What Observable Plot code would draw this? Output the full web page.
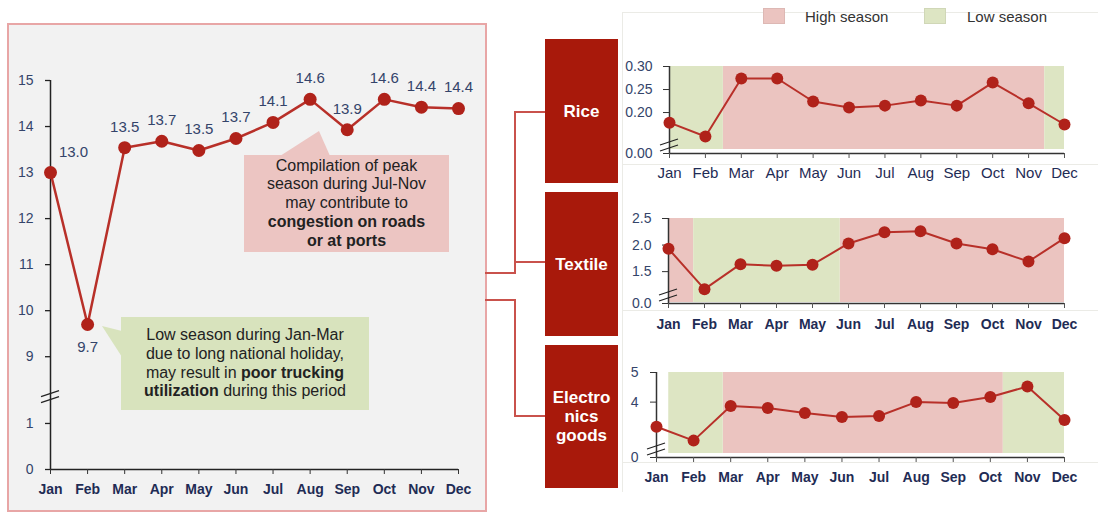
<!DOCTYPE html>
<html><head><meta charset="utf-8">
<script src="https://cdn.jsdelivr.net/npm/d3@7"></script>
<script src="https://cdn.jsdelivr.net/npm/@observablehq/plot@0.6"></script>
<style>
body{margin:0;background:#fff;}
#root{position:relative;width:1098px;height:517px;overflow:hidden;font-family:'Liberation Sans',Arial,Helvetica,sans-serif;}
.abs{position:absolute;}
.call{position:absolute;display:flex;align-items:center;justify-content:center;text-align:center;font-size:16px;line-height:18.7px;color:#222;}
.cat{position:absolute;left:545px;width:73px;background:#a8190b;color:#fff;font-weight:bold;font-size:17px;line-height:19px;display:flex;align-items:center;justify-content:center;text-align:center;}
.leg{position:absolute;top:8px;height:16px;}
.legt{position:absolute;top:8px;font-size:15px;color:#333;line-height:17px;}
.faint{position:absolute;background:#ebebe6;}
</style></head><body><div id="root"></div>
<script>
// ---------- data ----------
const months = ["Jan","Feb","Mar","Apr","May","Jun","Jul","Aug","Sep","Oct","Nov","Dec"];
const mainValues = [13.0, 9.7, 13.54, 13.68, 13.48, 13.74, 14.09, 14.59, 13.93, 14.59, 14.42, 14.39];
const mainTicks = [0, 1, 9, 10, 11, 12, 13, 14, 15];

const riceValues = [0.178, 0.148, 0.274, 0.274, 0.224, 0.211, 0.215, 0.226, 0.215, 0.265, 0.220, 0.174];
const riceTicks = [0, 0.20, 0.25, 0.30];
const riceSeasons = [
  {start: 0, end: 1.5, season: "Low"},
  {start: 1.5, end: 10.45, season: "High"},
  {start: 10.45, end: 11, season: "Low"}
];

const textileValues = [1.93, 1.17, 1.64, 1.61, 1.63, 2.03, 2.24, 2.26, 2.03, 1.92, 1.69, 2.13];
const textileTicks = [0, 1.5, 2.0, 2.5];
const textileSeasons = [
  {start: 0, end: 0.7, season: "High"},
  {start: 0.7, end: 4.77, season: "Low"},
  {start: 4.77, end: 11, season: "High"}
];

const electronicsValues = [3.17, 2.70, 3.87, 3.80, 3.63, 3.50, 3.53, 4.00, 3.97, 4.17, 4.53, 3.40];
const electronicsTicks = [0, 4, 5];
const electronicsSeasons = [
  {start: 0.33, end: 1.8, season: "Low"},
  {start: 1.8, end: 9.35, season: "High"},
  {start: 9.35, end: 11, season: "Low"}
];

// ---------- style ----------
const FONT = "'Liberation Sans', Arial, Helvetica, sans-serif";
const PINK = "#ebc4c0", GREEN = "#dde5c3";
const LINE = "#b83029", DOT = "#b0221a";
const NAVY = "#1f2c55", SLATE = "#34446a";
const root = document.getElementById("root");

function place(node, left, top) {
  node.style.position = "absolute";
  node.style.left = left + "px";
  node.style.top = top + "px";
  root.appendChild(node);
  return node;
}
function breakMarks(chart, xv, yv) {
  const sx = chart.scale("x"), sy = chart.scale("y");
  const cx = sx.apply(xv), cy = sy.apply(yv);
  const g = d3.select(chart).append("g").attr("stroke", "#222").attr("stroke-width", 1.3);
  for (const off of [-3, 3]) {
    g.append("line").attr("x1", cx - 9).attr("y1", cy + 3 + off).attr("x2", cx + 9).attr("y2", cy - 3 + off);
  }
}

// main panel background
const panel = document.createElement("div");
Object.assign(panel.style, {width: "480px", height: "489px", boxSizing: "border-box", border: "2px solid #e8a6a6", background: "#f2f2f2"});
place(panel, 7, 23);

// ---------- main chart ----------
const brkMain = v => v >= 5 ? v - 6.55 : v;
const mainData = months.map((m, i) => ({i, month: m, value: mainValues[i]}));
const main = Plot.plot({
  width: 490, height: 517,
  marginLeft: 50, marginRight: 32, marginTop: 80, marginBottom: 48,
  style: {fontFamily: FONT, background: "transparent"},
  x: {type: "linear", domain: [0, 11]},
  y: {type: "linear", domain: [0, brkMain(15)]},
  marks: [
    Plot.ruleX([0], {stroke: "#222", strokeWidth: 1.5}),
    Plot.ruleY([0], {stroke: "#222", strokeWidth: 1.5}),
    Plot.axisY(mainTicks.map(brkMain), {tickFormat: t => String(mainTicks[mainTicks.map(brkMain).indexOf(t)]), tickSize: 5, tickPadding: 12, fontSize: 14, fill: SLATE, stroke: "#222", strokeWidth: 1.3, label: null}),
    Plot.axisX(d3.range(12), {tickFormat: i => months[i], tickSize: 5, tickPadding: 10, fontSize: 14, fontWeight: "bold", fill: NAVY, stroke: "#333", label: null}),
    Plot.line(mainData, {x: "i", y: d => brkMain(d.value), stroke: LINE, strokeWidth: 2.5}),
    Plot.dot(mainData, {x: "i", y: d => brkMain(d.value), r: 6.5, fill: DOT}),
    Plot.text(mainData.filter(d => d.i === 0), {x: "i", y: d => brkMain(d.value), text: d => d.value.toFixed(1), dx: 23, dy: -20, fontSize: 15, fill: SLATE}),
    Plot.text(mainData.filter(d => d.i === 1), {x: "i", y: d => brkMain(d.value), text: d => d.value.toFixed(1), dy: 23, fontSize: 15, fill: SLATE}),
    Plot.text(mainData.filter(d => d.i > 1), {x: "i", y: d => brkMain(d.value), text: d => d.value.toFixed(1), dy: -21, fontSize: 15, fill: SLATE})
  ]
});
place(main, 0, 0);
breakMarks(main, 0, 1.57);

// ---------- small charts ----------
function seasonChart(cfg) {
  const data = months.map((m, i) => ({i, value: cfg.values[i]}));
  const tv = cfg.ticks.map(cfg.brk);
  const top = tv[tv.length - 1], bottom = cfg.brk(0);
  const chart = Plot.plot({
    width: 476, height: cfg.height,
    marginLeft: cfg.ml, marginRight: 34, marginTop: cfg.mt, marginBottom: cfg.mb,
    style: {fontFamily: FONT, background: "transparent"},
    x: {type: "linear", domain: [0, 11]},
    y: {type: "linear", domain: [bottom, top]},
    marks: [
      Plot.rect(cfg.seasons.filter(d => d.season === "High"), {x1: "start", x2: "end", y1: bottom, y2: top, fill: PINK, insetBottom: cfg.inset}),
      Plot.rect(cfg.seasons.filter(d => d.season === "Low"), {x1: "start", x2: "end", y1: bottom, y2: top, fill: GREEN, insetBottom: cfg.inset}),
      Plot.ruleY([bottom], {stroke: "#333", strokeWidth: 1.5}),
      Plot.ruleX([0], {stroke: "#333", strokeWidth: 1.5}),
      Plot.axisX(d3.range(12), {tickFormat: i => months[i], tickSize: 5, tickPadding: cfg.xpad, fontSize: cfg.mfs, fontWeight: cfg.mfw, fill: NAVY, stroke: "#555", label: null}),
      Plot.axisY(tv, {tickFormat: t => cfg.fmt(cfg.ticks[tv.indexOf(t)]), tickSize: 6, tickPadding: cfg.ypad, fontSize: 14, fill: SLATE, stroke: "#333", label: null}),
      Plot.line(data, {x: "i", y: d => cfg.brk(d.value), stroke: LINE, strokeWidth: 2}),
      Plot.dot(data, {x: "i", y: d => cfg.brk(d.value), r: 6, fill: DOT})
    ]
  });
  place(chart, 622, cfg.top);
  const sy = chart.scale("y");
  // break slightly above the baseline
  breakMarks(chart, 0, sy.invert(sy.apply(bottom) - 8));
  return chart;
}

// faint frame lines of the right side
[[622, 12, 476, 1], [622, 164, 476, 1], [622, 310, 476, 1], [622, 462, 476, 1], [622, 12, 1, 480]].forEach(([l, t, w, h]) => {
  const d = document.createElement("div"); d.className = "faint";
  Object.assign(d.style, {left: l + "px", top: t + "px", width: w + "px", height: h + "px"});
  root.appendChild(d);
});

seasonChart({values: riceValues, ticks: riceTicks, seasons: riceSeasons, brk: v => v < 0.1 ? v + 0.111 : v,
  fmt: v => v.toFixed(2), top: 0, height: 190, ml: 47, mt: 66, mb: 37, inset: 4, xpad: 9, mfs: 15, mfw: "normal", ypad: 11});
seasonChart({values: textileValues, ticks: textileTicks, seasons: textileSeasons, brk: v => v < 1 ? v + 0.9 : v,
  fmt: v => v.toFixed(1), top: 190, height: 150, ml: 46, mt: 28, mb: 37, inset: 1, xpad: 11, mfs: 14, mfw: "bold", ypad: 11});
seasonChart({values: electronicsValues, ticks: electronicsTicks, seasons: electronicsSeasons, brk: v => v < 2 ? v + 2.13 : v,
  fmt: v => String(v), top: 340, height: 177, ml: 34, mt: 32, mb: 60, inset: 4, xpad: 10, mfs: 14, mfw: "bold", ypad: 12});

// ---------- decorations: connectors, callout tails ----------
const deco = d3.select(root).append("svg").attr("width", 1098).attr("height", 517)
  .style("position", "absolute").style("left", "0px").style("top", "0px");
deco.append("path").attr("d", "M485,273H515V112H545M515,262H545M485,300H515V416H545")
  .attr("fill", "none").attr("stroke", "#c9524c").attr("stroke-width", 2);
deco.append("polygon").attr("points", "280,156 319,131 330,156").attr("fill", "#ecc5c2");
deco.append("polygon").attr("points", "102,326 122,331 122,357").attr("fill", "#d8e3bd");

// category boxes
[["Rice", 39, 144], ["Textile", 192, 144], ["Electro<br>nics<br>goods", 345, 143]].forEach(([t, top, h]) => {
  const d = document.createElement("div"); d.className = "cat";
  d.style.top = top + "px"; d.style.height = h + "px"; d.innerHTML = t;
  root.appendChild(d);
});

// callout boxes
const c1 = document.createElement("div"); c1.className = "call";
Object.assign(c1.style, {left: "244px", top: "155px", width: "205px", height: "97px", background: "#ecc5c2"});
c1.innerHTML = "<div>Compilation of peak<br>season during Jul-Nov<br>may contribute to<br><b>congestion on roads<br>or at ports</b></div>";
root.appendChild(c1);
const c2 = document.createElement("div"); c2.className = "call";
Object.assign(c2.style, {left: "121px", top: "317px", width: "248px", height: "93px", background: "#d8e3bd"});
c2.innerHTML = "<div>Low season during Jan-Mar<br>due to long national holiday,<br>may result in <b>poor trucking<br>utilization</b> during this period</div>";
root.appendChild(c2);

// legend
const legItems = [["High season", PINK, 763, 805], ["Low season", GREEN, 924, 967]];
legItems.forEach(([label, color, sx, tx]) => {
  const s = document.createElement("div"); s.className = "leg";
  Object.assign(s.style, {left: sx + "px", width: "22px", background: color, boxShadow: "inset 0 0 0 1px rgba(0,0,0,0.06)"});
  root.appendChild(s);
  const t = document.createElement("div"); t.className = "legt";
  t.style.left = tx + "px"; t.textContent = label;
  root.appendChild(t);
});
</script></body></html>
